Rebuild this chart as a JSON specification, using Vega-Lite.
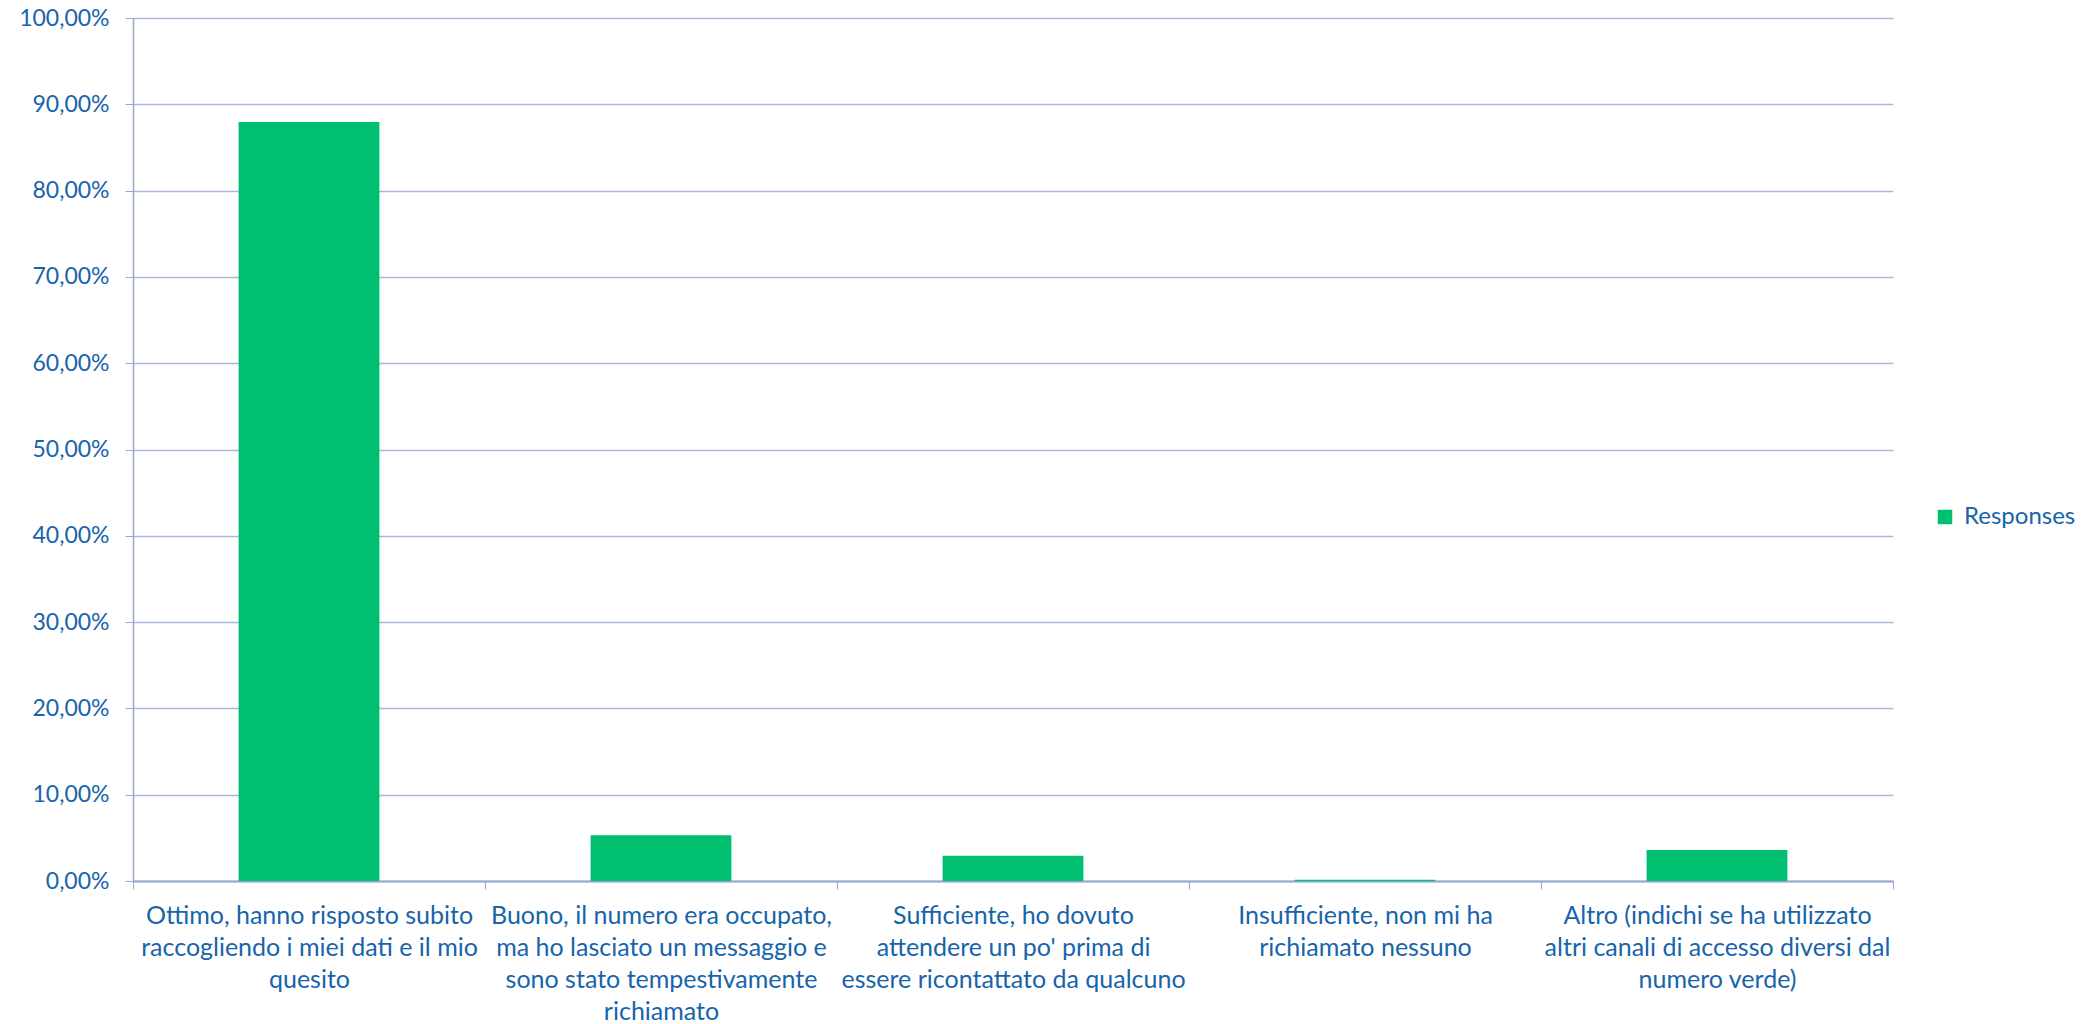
{
  "$schema": "https://vega.github.io/schema/vega-lite/v6.json",
  "width": 1760,
  "height": 863,
  "autosize": {"type": "none"},
  "padding": {"left": 133, "top": 18, "right": 195, "bottom": 143},
  "background": "white",
  "config": {
    "locale": {"number": {"decimal": ",", "thousands": ".", "grouping": [3], "currency": ["€", ""]}},
    "view": {"stroke": null},
    "font": "Lato"
  },
  "data": {
    "values": [
      {"risposta": "Ottimo, hanno risposto subito raccogliendo i miei dati e il mio quesito", "valore": 0.8795, "serie": "Responses"},
      {"risposta": "Buono, il numero era occupato, ma ho lasciato un messaggio e sono stato tempestivamente richiamato", "valore": 0.0529, "serie": "Responses"},
      {"risposta": "Sufficiente, ho dovuto attendere un po' prima di essere ricontattato da qualcuno", "valore": 0.0293, "serie": "Responses"},
      {"risposta": "Insufficiente, non mi ha richiamato nessuno", "valore": 0.0015, "serie": "Responses"},
      {"risposta": "Altro (indichi se ha utilizzato altri canali di accesso diversi dal numero verde)", "valore": 0.0359, "serie": "Responses"}
    ]
  },
  "mark": {"type": "bar", "width": {"band": 0.4}},
  "encoding": {
    "x": {
      "field": "risposta",
      "type": "nominal",
      "sort": null,
      "scale": {"paddingInner": 0, "paddingOuter": 0},
      "axis": {
        "title": null,
        "labelAngle": 0,
        "labelFont": "Lato",
        "labelFontSize": 25,
        "labelColor": "#1764AB",
        "labelLineHeight": 32,
        "labelPadding": 14,
        "labelLimit": 0,
        "labelBaseline": "top",
        "tickBand": "extent",
        "tickSize": 8,
        "tickColor": "#94A8D0",
        "domainColor": "#94A8D0",
        "domainWidth": 2,
        "grid": false,
        "labelExpr": "{'Ottimo, hanno risposto subito raccogliendo i miei dati e il mio quesito': ['Ottimo, hanno risposto subito', 'raccogliendo i miei dati e il mio', 'quesito'], 'Buono, il numero era occupato, ma ho lasciato un messaggio e sono stato tempestivamente richiamato': ['Buono, il numero era occupato,', 'ma ho lasciato un messaggio e', 'sono stato tempestivamente', 'richiamato'], \"Sufficiente, ho dovuto attendere un po' prima di essere ricontattato da qualcuno\": ['Sufficiente, ho dovuto', \"attendere un po' prima di\", 'essere ricontattato da qualcuno'], 'Insufficiente, non mi ha richiamato nessuno': ['Insufficiente, non mi ha', 'richiamato nessuno'], 'Altro (indichi se ha utilizzato altri canali di accesso diversi dal numero verde)': ['Altro (indichi se ha utilizzato', 'altri canali di accesso diversi dal', 'numero verde)']}[datum.value]"
      }
    },
    "y": {
      "field": "valore",
      "type": "quantitative",
      "scale": {"domain": [0, 1], "nice": false},
      "axis": {
        "title": null,
        "format": ".2%",
        "values": [0, 0.1, 0.2, 0.3, 0.4, 0.5, 0.6, 0.7, 0.8, 0.9, 1],
        "labelFont": "Lato",
        "labelFontSize": 23,
        "labelColor": "#1764AB",
        "labelPadding": 16,
        "tickSize": 8,
        "tickColor": "#94A8D0",
        "domainColor": "#94A8D0",
        "domainWidth": 1.5,
        "gridColor": "#A9B8D9",
        "gridWidth": 1.5
      }
    },
    "color": {
      "field": "serie",
      "type": "nominal",
      "scale": {"range": ["#00BF6F"]},
      "legend": {
        "title": null,
        "orient": "none",
        "legendX": 1800,
        "legendY": 487,
        "symbolType": "square",
        "symbolSize": 210,
        "symbolStrokeWidth": 0,
        "labelFont": "Lato",
        "labelFontSize": 24,
        "labelColor": "#1764AB",
        "labelOffset": 7
      }
    }
  }
}
